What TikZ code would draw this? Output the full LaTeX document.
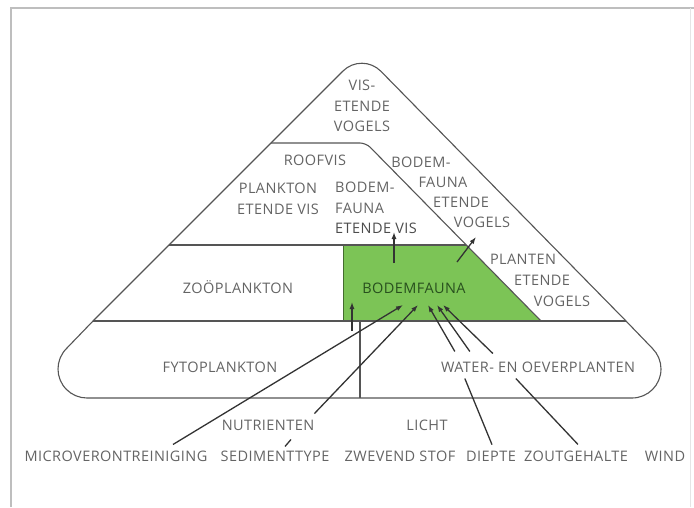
\documentclass[tikz,border=0pt]{standalone}
\usepackage{fontspec}
\setmainfont[LetterSpace=3]{Open Sans}
\usetikzlibrary{arrows.meta,calc}

\definecolor{fauna}{RGB}{124,196,86}
\definecolor{faunaink}{RGB}{40,80,30}
\definecolor{inkgray}{RGB}{100,100,100}
\definecolor{linegray}{RGB}{85,85,85}
\definecolor{framegray}{RGB}{190,190,190}

\begin{document}
\begin{tikzpicture}[
    x=1pt, y=-1pt,
    lbl/.style={font=\fontsize{14.5}{20.5}\selectfont, text=inkgray, inner sep=0pt, align=center},
    edge/.style={draw=linegray, line width=1.1pt},
    lnk/.style={draw=black!80, line width=1.3pt},
    arr/.style={lnk, -{Latex[length=7pt,width=5pt]}}
]
\useasboundingbox (0,0) rectangle (694,507);

% --- FRAME ---
\draw[framegray, line width=2pt] (11,507) -- (11,8) -- (694,8);
\draw[framegray!40, line width=1pt] (690,8) -- (690,507);

% --- PYRAMID ---
\fill[fauna] (343,245) -- (466,245) -- (541,321) -- (343,321) -- cycle;
\draw[fauna!55!black, line width=1pt] (343,245) -- (343,321);

\coordinate (apex) at (362,52);
\draw[edge, rounded corners=27pt] (93,321) -- (apex) -- (626,321);
\draw[edge] (93,321) -- (66.5,348.5) arc[start angle=225, end angle=90, radius=29]
    -- (632,398) arc[start angle=90, end angle=-45, radius=29] -- (626,321);

\draw[edge] (93,321) -- (626,321);
\draw[edge] (169,245) -- (466,245);
\draw[edge, rounded corners=6pt] (271,143) -- (366,143) -- (541,321);
\draw[edge] (360,321) -- (360,398);

% --- LEVEL LABELS ---
\node[lbl] (visvogels) at (362,106) {VIS-\\ETENDE\\VOGELS};
\node[lbl] (roofvis) at (315,160) {ROOFVIS};
\node[lbl] (planktonvis) at (278,199) {PLANKTON\\ETENDE VIS};
\node[lbl, align=left, anchor=west] (bfvis) at (335,208) {BODEM-\\FAUNA\\\textcolor{black!70}{ETENDE VIS}};

\node[lbl] (bfv1) at (421,162) {BODEM-};
\node[lbl] (bfv2) at (443,182) {FAUNA};
\node[lbl] (bfv3) at (461,202) {ETENDE};
\node[lbl] (bfv4) at (482,222) {VOGELS};

\node[lbl] (pv1) at (523,259) {PLANTEN};
\node[lbl] (pv2) at (542,280) {ETENDE};
\node[lbl] (pv3) at (562,301) {VOGELS};

\node[lbl] (zoo) at (238,287) {ZOÖPLANKTON};
\node[lbl, text=faunaink] (bodem) at (414,288) {BODEMFAUNA};
\node[lbl] (fyto) at (220,367) {FYTOPLANKTON};
\node[lbl] (water) at (538,367) {WATER- EN OEVERPLANTEN};

% --- FACTORS ---
\node[lbl] (nutr) at (268,425) {NUTRIENTEN};
\node[lbl] (licht) at (427,425) {LICHT};
\node[lbl] (micro) at (116,456) {MICROVERONTREINIGING};
\node[lbl] (sediment) at (275,456) {SEDIMENTTYPE};
\node[lbl] (zwevend) at (400,456) {ZWEVEND STOF};
\node[lbl] (diepte) at (491,456) {DIEPTE};
\node[lbl] (zout) at (576,456) {ZOUTGEHALTE};
\node[lbl] (wind) at (665,456) {WIND};

% --- ARROWS ---
\coordinate (bodemtop) at (394,263);
\coordinate (bodemright) at (457,262);
\coordinate (fytotop) at (352,331);
\coordinate (tipmicro) at (403,305);
\coordinate (tipnutr) at (418,305);
\coordinate (tipw1) at (428,305);
\coordinate (tipw2) at (437,305);
\coordinate (tipw3) at (443,305);

\draw[arr] (bodemtop) -- (394,232);
\draw[arr] (bodemright) -- (476,237);
\draw[arr] (fytotop) -- (352,302);

\draw[arr] ($(micro.north)+(57,-6)$) -- (tipmicro);
\draw[arr] ($(nutr.north east)+(0,-6)$) -- (tipnutr);
\draw[lnk] ($(sediment.north)+(10,-4)$) -- ++(6,-7);

\draw[arr] ($(water.north west)+(14,-10)$) -- (tipw1);
\draw[arr] ($(water.north west)+(29,-10)$) -- (tipw2);
\draw[arr] ($(water.north west)+(52,-8)$) -- (tipw3);

\draw[lnk] ($(water.south west)+(24,6)$) -- ($(diepte.north)+(1,-6)$);
\draw[lnk] ($(water.south west)+(75,6)$) -- ($(zout.north)+(2,-6)$);

\end{tikzpicture}
\end{document}
